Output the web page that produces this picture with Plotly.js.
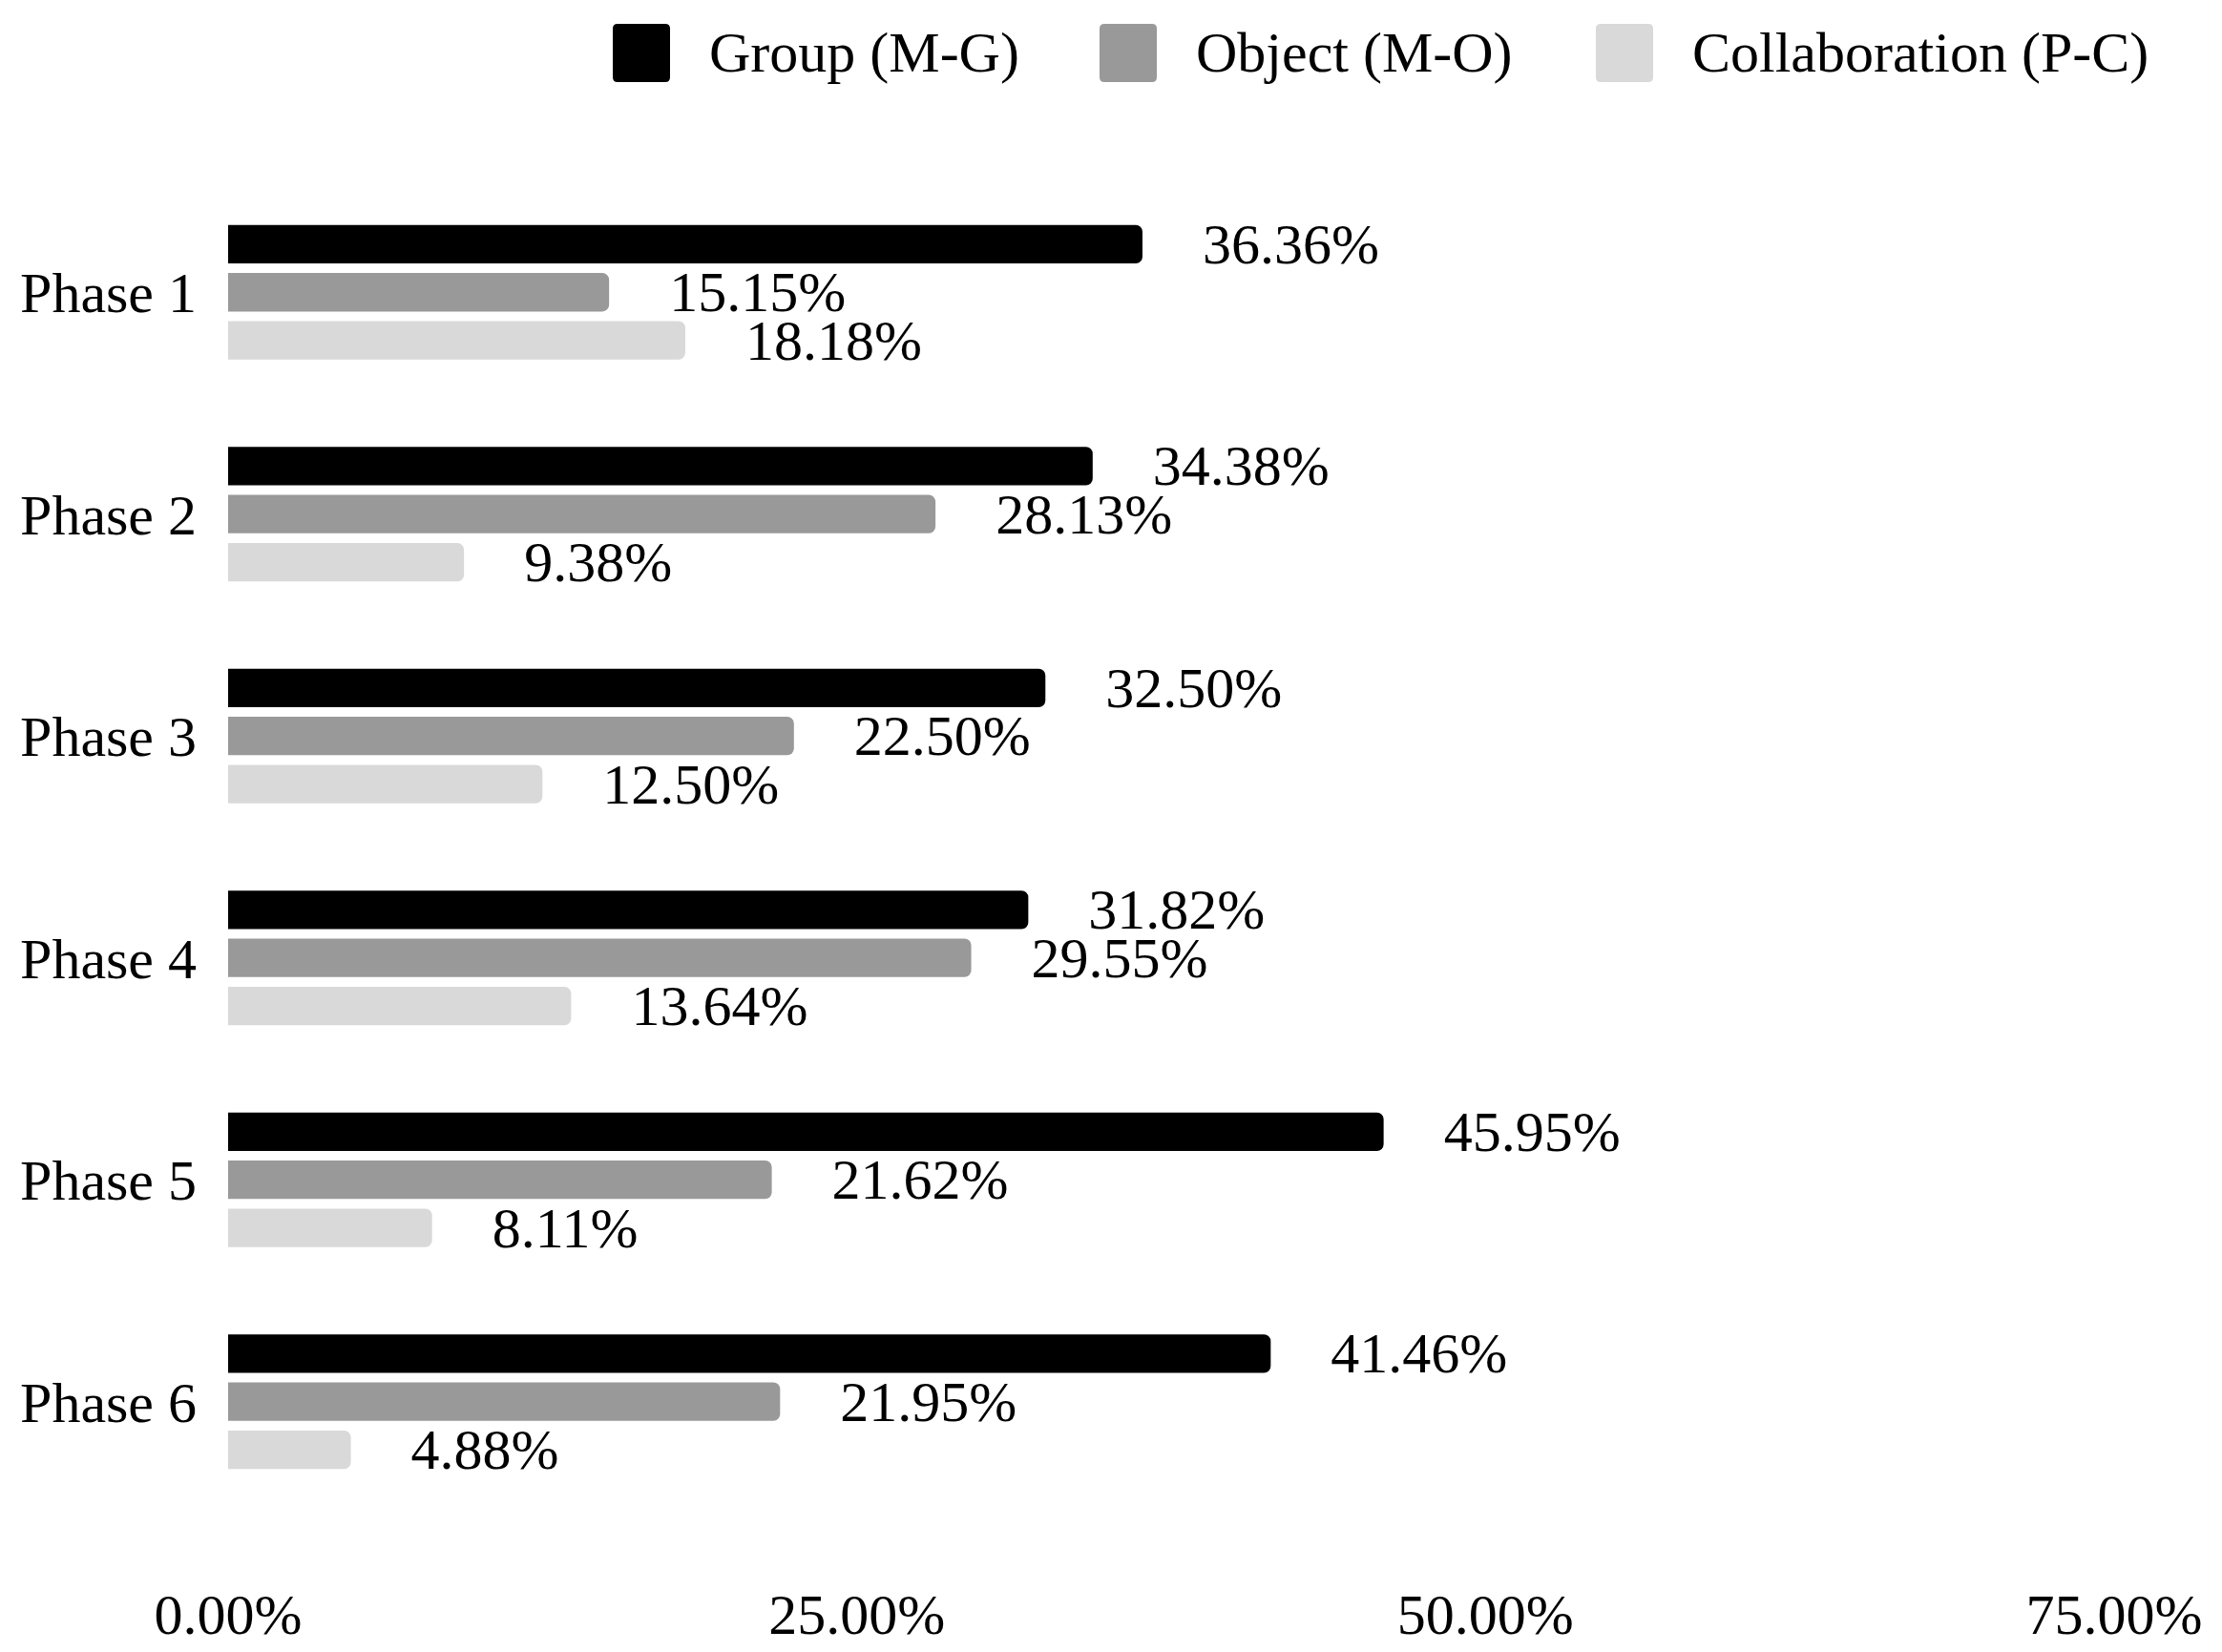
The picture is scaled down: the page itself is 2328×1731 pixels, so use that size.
<!DOCTYPE html>
<html>
<head>
<meta charset="utf-8">
<script src="https://cdn.plot.ly/plotly-3.0.1.min.js"></script>
<style>html,body{margin:0;padding:0;background:#fff;}#chart{width:2328px;height:1731px;}</style>
</head>
<body>
<div id="chart"></div>
<script>
// ---- data ----
const phases = ['Phase 1', 'Phase 2', 'Phase 3', 'Phase 4', 'Phase 5', 'Phase 6'];
const groupMG = [36.36, 34.38, 32.50, 31.82, 45.95, 41.46];
const objectMO = [15.15, 28.13, 22.50, 29.55, 21.62, 21.95];
const collabPC = [18.18, 9.38, 12.50, 13.64, 8.11, 4.88];
const seriesNames = ['Group (M-G)', 'Object (M-O)', 'Collaboration (P-C)'];
const xTickVals = [0, 25, 50, 75];
const xTickText = ['0.00%', '25.00%', '50.00%', '75.00%'];

// ---- styling ----
const colors = ['#000000', '#999999', '#d9d9d9'];
const FONT = 'Liberation Serif, Times New Roman, serif';
const FS = 60;
const W = 2328, H = 1731;
const L = 239, R = 2215, T = 190, B = 1650;
const PAD = '\u00A0\u00A0\u00A0\u00A0';

const seriesValues = [groupMG, objectMO, collabPC];
const traces = seriesValues.map((vals, i) => ({
  type: 'bar',
  orientation: 'h',
  name: seriesNames[i],
  y: phases,
  x: vals,
  text: vals.map(v => PAD + v.toFixed(2) + '%'),
  textposition: 'outside',
  constraintext: 'none',
  cliponaxis: false,
  textfont: {family: FONT, size: FS, color: '#000'},
  marker: {color: colors[i], cornerradius: 7, line: {width: 0}},
  hoverinfo: 'skip',
  showlegend: false
}));

// manual legend (large swatches)
const fx = px => (px - L) / (R - L);
const fy = py => (B - py) / (B - T);
function roundRect(x0, y0, x1, y1, r) {
  const X = fx, Y = fy;
  return 'M' + X(x0 + r) + ',' + Y(y0) +
    ' L' + X(x1 - r) + ',' + Y(y0) +
    ' Q' + X(x1) + ',' + Y(y0) + ' ' + X(x1) + ',' + Y(y0 + r) +
    ' L' + X(x1) + ',' + Y(y1 - r) +
    ' Q' + X(x1) + ',' + Y(y1) + ' ' + X(x1 - r) + ',' + Y(y1) +
    ' L' + X(x0 + r) + ',' + Y(y1) +
    ' Q' + X(x0) + ',' + Y(y1) + ' ' + X(x0) + ',' + Y(y1 - r) +
    ' L' + X(x0) + ',' + Y(y0 + r) +
    ' Q' + X(x0) + ',' + Y(y0) + ' ' + X(x0 + r) + ',' + Y(y0) + ' Z';
}
const legendX = [642, 1152, 1672];
const swW = 60, swTop = 25, swBot = 86, textGap = 39, legendMidY = 55;
const shapes = legendX.map((x, i) => ({
  type: 'path', xref: 'paper', yref: 'paper',
  path: roundRect(x, swTop, x + swW, swBot, 5),
  fillcolor: colors[i], line: {width: 0}
}));
const annotations = legendX.map((x, i) => ({
  xref: 'paper', yref: 'paper',
  x: fx(x + swW + textGap), y: fy(legendMidY),
  xanchor: 'left', yanchor: 'middle',
  text: seriesNames[i], showarrow: false,
  font: {family: FONT, size: FS, color: '#000'}
}));

const layout = {
  width: W, height: H,
  margin: {l: L, r: W - R, t: T, b: H - B, pad: 0},
  paper_bgcolor: '#fff', plot_bgcolor: '#fff',
  font: {family: FONT, size: FS, color: '#000'},
  barmode: 'group',
  bargap: 0.35,
  bargroupgap: 0.2,
  showlegend: false,
  hovermode: false,
  xaxis: {
    range: [0, 75], autorange: false,
    tickvals: xTickVals, ticktext: xTickText,
    showgrid: false, zeroline: false, showline: false, ticks: '',
    ticklabelstandoff: 1,
    tickfont: {family: FONT, size: FS, color: '#000'}
  },
  yaxis: {
    type: 'category',
    range: [5.78, -0.5], autorange: false,
    showgrid: false, zeroline: false, showline: false, ticks: '',
    ticklabelstandoff: 32,
    tickfont: {family: FONT, size: FS, color: '#000'}
  },
  shapes: shapes,
  annotations: annotations
};

Plotly.newPlot('chart', traces, layout, {displayModeBar: false, staticPlot: true});
</script>
</body>
</html>
